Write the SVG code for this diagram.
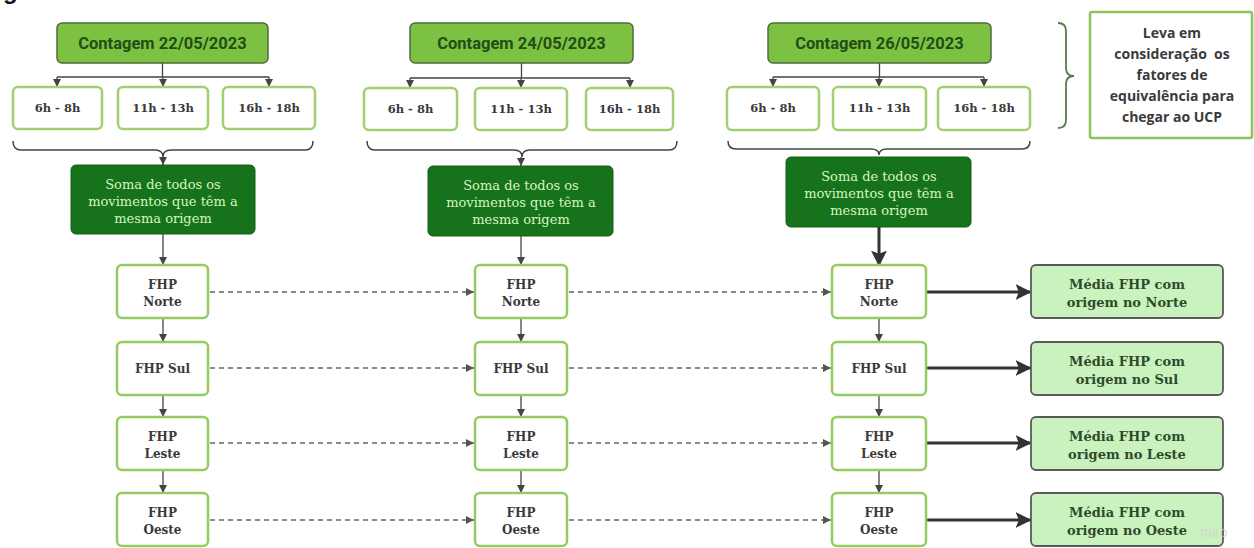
<svg xmlns="http://www.w3.org/2000/svg" width="1254" height="548" viewBox="0 0 1254 548">
<defs>
<style>
.cont{fill:#7dc142;stroke:#4f6b3c;stroke-width:1.5}
.ctxt{font-family:Roboto,"Liberation Sans",sans-serif;font-weight:bold;font-size:16.5px;fill:#234d17;text-anchor:middle}
.tbox{fill:#fff;stroke:#a0d070;stroke-width:2.5}
.ttxt{font-family:"DejaVu Serif","Liberation Serif",serif;font-weight:bold;font-size:11.5px;fill:#3a3a3a;text-anchor:middle}
.soma{fill:#17731b;stroke:#135f16;stroke-width:1}
.stxt{font-family:"DejaVu Serif","Liberation Serif",serif;font-size:13px;fill:#d6f5c2;text-anchor:middle}
.fhp{fill:#fff;stroke:#95cb5e;stroke-width:2.5}
.ftxt{font-family:"DejaVu Serif","Liberation Serif",serif;font-weight:bold;font-size:12px;fill:#3a3a3a;text-anchor:middle}
.media{fill:#c9f2bf;stroke:#5a5a5a;stroke-width:1.8}
.mtxt{font-family:"DejaVu Serif","Liberation Serif",serif;font-weight:bold;font-size:13px;fill:#2f4a2a;text-anchor:middle}
.leva{fill:#fff;stroke:#8dc15b;stroke-width:2.5}
.ltxt{font-family:"Open Sans","Liberation Sans",sans-serif;font-weight:bold;font-size:14px;fill:#3a3a3a;text-anchor:middle}
.thin{fill:none;stroke:#444;stroke-width:1.3}
.dash{fill:none;stroke:#666;stroke-width:1.3;stroke-dasharray:5 4}
.thick{fill:none;stroke:#333;stroke-width:3}
.brace{fill:none;stroke:#444;stroke-width:1.5}
</style>
<marker id="ah" viewBox="0 0 10 10" refX="10" refY="5" markerWidth="8" markerHeight="8" markerUnits="userSpaceOnUse" orient="auto"><path d="M0,0 L10,5 L0,10 z" fill="#444"/></marker>
<marker id="ahd" viewBox="0 0 10 10" refX="10" refY="5" markerWidth="8" markerHeight="8" markerUnits="userSpaceOnUse" orient="auto"><path d="M0,0 L10,5 L0,10 z" fill="#555"/></marker>
<marker id="ahb" viewBox="0 0 10 10" refX="9" refY="5" markerWidth="16" markerHeight="16" markerUnits="userSpaceOnUse" orient="auto"><path d="M0,0 L10,5 L0,10 L2,5 z" fill="#333"/></marker>
</defs>
<rect width="1254" height="548" fill="#fff"/>
<text x="3" y="-1" style="font-family:'Liberation Sans',sans-serif;font-weight:bold;font-size:24px;fill:#111">g</text>

<g id="connectors">
<path class="thin" d="M162.5,63 V77 M57,77 H269"/>
<path class="thin" d="M57,77 V87" marker-end="url(#ah)"/>
<path class="thin" d="M163,77 V87" marker-end="url(#ah)"/>
<path class="thin" d="M269,77 V87" marker-end="url(#ah)"/>
<path class="brace" d="M13,141 Q13,150 21,150 L155,150 Q163,150 163,157 Q163,150 171,150 L305,150 Q313,150 313,141"/>
<path class="thin" d="M163,157 V165" marker-end="url(#ah)"/>
<path class="thin" d="M163,234 V265" marker-end="url(#ah)"/>
<path class="thin" d="M521.5,63 V78 M410,78 H630"/>
<path class="thin" d="M410,78 V88" marker-end="url(#ah)"/>
<path class="thin" d="M521,78 V88" marker-end="url(#ah)"/>
<path class="thin" d="M630,78 V88" marker-end="url(#ah)"/>
<path class="brace" d="M367,141 Q367,150 375,150 L514,150 Q522,150 522,157 Q522,150 530,150 L669,150 Q677,150 677,141"/>
<path class="thin" d="M521,157 V166" marker-end="url(#ah)"/>
<path class="thin" d="M521,236 V265" marker-end="url(#ah)"/>
<path class="thin" d="M879.5,63 V77 M773,77 H984"/>
<path class="thin" d="M773,77 V87" marker-end="url(#ah)"/>
<path class="thin" d="M879,77 V87" marker-end="url(#ah)"/>
<path class="thin" d="M984,77 V87" marker-end="url(#ah)"/>
<path class="brace" d="M728,141 Q728,149 736,149 L871,149 Q879,149 879,155 Q879,149 887,149 L1022,149 Q1030,149 1030,141"/>
<path class="thick" d="M879,227 V265" marker-end="url(#ahb)"/>
<path class="thin" d="M163,318 V342" marker-end="url(#ah)"/>
<path class="thin" d="M163,395 V417" marker-end="url(#ah)"/>
<path class="thin" d="M163,470 V493" marker-end="url(#ah)"/>
<path class="thin" d="M521,318 V342" marker-end="url(#ah)"/>
<path class="thin" d="M521,395 V417" marker-end="url(#ah)"/>
<path class="thin" d="M521,470 V493" marker-end="url(#ah)"/>
<path class="thin" d="M879,318 V342" marker-end="url(#ah)"/>
<path class="thin" d="M879,395 V417" marker-end="url(#ah)"/>
<path class="thin" d="M879,470 V493" marker-end="url(#ah)"/>
<path class="dash" d="M210,292 H474" marker-end="url(#ahd)"/>
<path class="dash" d="M210,368 H474" marker-end="url(#ahd)"/>
<path class="dash" d="M210,443 H474" marker-end="url(#ahd)"/>
<path class="dash" d="M210,520 H474" marker-end="url(#ahd)"/>
<path class="dash" d="M569,292 H831" marker-end="url(#ahd)"/>
<path class="dash" d="M569,368 H831" marker-end="url(#ahd)"/>
<path class="dash" d="M569,443 H831" marker-end="url(#ahd)"/>
<path class="dash" d="M569,520 H831" marker-end="url(#ahd)"/>
<path class="thick" d="M927,292 H1030" marker-end="url(#ahb)"/>
<path class="thick" d="M927,368 H1030" marker-end="url(#ahb)"/>
<path class="thick" d="M927,443 H1030" marker-end="url(#ahb)"/>
<path class="thick" d="M927,520 H1030" marker-end="url(#ahb)"/>
<path fill="none" stroke="#5b7a4a" stroke-width="1.8" d="M1058,23 Q1066,23 1066,31 L1066,68 Q1066,76 1074,76 Q1066,76 1066,84 L1066,120 Q1066,128 1058,128"/>
</g>

<g id="contagem1"><rect class="cont" x="57" y="23" width="211" height="40" rx="5"/><text class="ctxt" x="162.5" y="49">Contagem 22/05/2023</text></g>
<g id="contagem2"><rect class="cont" x="410" y="23" width="223" height="40" rx="5"/><text class="ctxt" x="521.5" y="49">Contagem 24/05/2023</text></g>
<g id="contagem3"><rect class="cont" x="768" y="23" width="223" height="40" rx="5"/><text class="ctxt" x="879.5" y="49">Contagem 26/05/2023</text></g>

<g id="t1a"><rect class="tbox" x="13" y="87" width="89" height="42" rx="5"/><text class="ttxt" x="57.5" y="112">6h - 8h</text></g>
<g id="t1b"><rect class="tbox" x="118" y="87" width="90" height="42" rx="5"/><text class="ttxt" x="163" y="112">11h - 13h</text></g>
<g id="t1c"><rect class="tbox" x="223" y="87" width="92" height="42" rx="5"/><text class="ttxt" x="269" y="112">16h - 18h</text></g>
<g id="t2a"><rect class="tbox" x="364" y="88" width="93" height="42" rx="5"/><text class="ttxt" x="410.5" y="113">6h - 8h</text></g>
<g id="t2b"><rect class="tbox" x="475" y="88" width="92" height="42" rx="5"/><text class="ttxt" x="521" y="113">11h - 13h</text></g>
<g id="t2c"><rect class="tbox" x="586" y="88" width="87" height="42" rx="5"/><text class="ttxt" x="629.5" y="113">16h - 18h</text></g>
<g id="t3a"><rect class="tbox" x="727" y="87" width="92" height="43" rx="5"/><text class="ttxt" x="773" y="112">6h - 8h</text></g>
<g id="t3b"><rect class="tbox" x="833" y="87" width="93" height="43" rx="5"/><text class="ttxt" x="879.5" y="112">11h - 13h</text></g>
<g id="t3c"><rect class="tbox" x="938" y="87" width="92" height="43" rx="5"/><text class="ttxt" x="984" y="112">16h - 18h</text></g>

<g id="soma1"><rect class="soma" x="71" y="165" width="184" height="69" rx="5"/><text class="stxt" x="163" y="189">Soma de todos os</text><text class="stxt" x="163" y="206">movimentos que têm a</text><text class="stxt" x="163" y="223">mesma origem</text></g>
<g id="soma2"><rect class="soma" x="428" y="166" width="185" height="70" rx="5"/><text class="stxt" x="521" y="190">Soma de todos os</text><text class="stxt" x="521" y="207">movimentos que têm a</text><text class="stxt" x="521" y="224">mesma origem</text></g>
<g id="soma3"><rect class="soma" x="786" y="157" width="185" height="70" rx="5"/><text class="stxt" x="879" y="181">Soma de todos os</text><text class="stxt" x="879" y="198">movimentos que têm a</text><text class="stxt" x="879" y="215">mesma origem</text></g>

<g id="fhp1n"><rect class="fhp" x="117" y="265" width="91" height="53" rx="5"/><text class="ftxt" x="162.5" y="289">FHP</text><text class="ftxt" x="162.5" y="306">Norte</text></g>
<g id="fhp1s"><rect class="fhp" x="117" y="342" width="91" height="53" rx="5"/><text class="ftxt" x="162.5" y="373">FHP Sul</text></g>
<g id="fhp1l"><rect class="fhp" x="117" y="417" width="91" height="53" rx="5"/><text class="ftxt" x="162.5" y="441">FHP</text><text class="ftxt" x="162.5" y="458">Leste</text></g>
<g id="fhp1o"><rect class="fhp" x="117" y="493" width="91" height="53" rx="5"/><text class="ftxt" x="162.5" y="517">FHP</text><text class="ftxt" x="162.5" y="534">Oeste</text></g>

<g id="fhp2n"><rect class="fhp" x="475" y="265" width="92" height="53" rx="5"/><text class="ftxt" x="521" y="289">FHP</text><text class="ftxt" x="521" y="306">Norte</text></g>
<g id="fhp2s"><rect class="fhp" x="475" y="342" width="92" height="53" rx="5"/><text class="ftxt" x="521" y="373">FHP Sul</text></g>
<g id="fhp2l"><rect class="fhp" x="475" y="417" width="92" height="53" rx="5"/><text class="ftxt" x="521" y="441">FHP</text><text class="ftxt" x="521" y="458">Leste</text></g>
<g id="fhp2o"><rect class="fhp" x="475" y="493" width="92" height="53" rx="5"/><text class="ftxt" x="521" y="517">FHP</text><text class="ftxt" x="521" y="534">Oeste</text></g>

<g id="fhp3n"><rect class="fhp" x="832" y="265" width="94" height="53" rx="5"/><text class="ftxt" x="879" y="289">FHP</text><text class="ftxt" x="879" y="306">Norte</text></g>
<g id="fhp3s"><rect class="fhp" x="832" y="342" width="94" height="53" rx="5"/><text class="ftxt" x="879" y="373">FHP Sul</text></g>
<g id="fhp3l"><rect class="fhp" x="832" y="417" width="94" height="53" rx="5"/><text class="ftxt" x="879" y="441">FHP</text><text class="ftxt" x="879" y="458">Leste</text></g>
<g id="fhp3o"><rect class="fhp" x="832" y="493" width="94" height="53" rx="5"/><text class="ftxt" x="879" y="517">FHP</text><text class="ftxt" x="879" y="534">Oeste</text></g>

<g id="media_n"><rect class="media" x="1031" y="265" width="192" height="53" rx="5"/><text class="mtxt" x="1127" y="289">Média FHP com</text><text class="mtxt" x="1127" y="307">origem no Norte</text></g>
<g id="media_s"><rect class="media" x="1031" y="342" width="192" height="53" rx="5"/><text class="mtxt" x="1127" y="366">Média FHP com</text><text class="mtxt" x="1127" y="384">origem no Sul</text></g>
<g id="media_l"><rect class="media" x="1031" y="417" width="192" height="53" rx="5"/><text class="mtxt" x="1127" y="441">Média FHP com</text><text class="mtxt" x="1127" y="459">origem no Leste</text></g>
<g id="media_o"><rect class="media" x="1031" y="493" width="192" height="53" rx="5"/><text class="mtxt" x="1127" y="517">Média FHP com</text><text class="mtxt" x="1127" y="535">origem no Oeste</text></g>

<g id="leva"><rect class="leva" x="1090" y="12" width="162" height="126" rx="2"/>
<text class="ltxt" x="1172" y="38">Leva em</text>
<text class="ltxt" x="1172" y="59">consideração&#160; os</text>
<text class="ltxt" x="1172" y="80">fatores de</text>
<text class="ltxt" x="1172" y="101">equivalência para</text>
<text class="ltxt" x="1172" y="122">chegar ao UCP</text></g>

<text x="1200" y="537" style="font-family:'Liberation Sans',sans-serif;font-size:14px;fill:#c9cfc9;opacity:0.7">miro</text>
</svg>
